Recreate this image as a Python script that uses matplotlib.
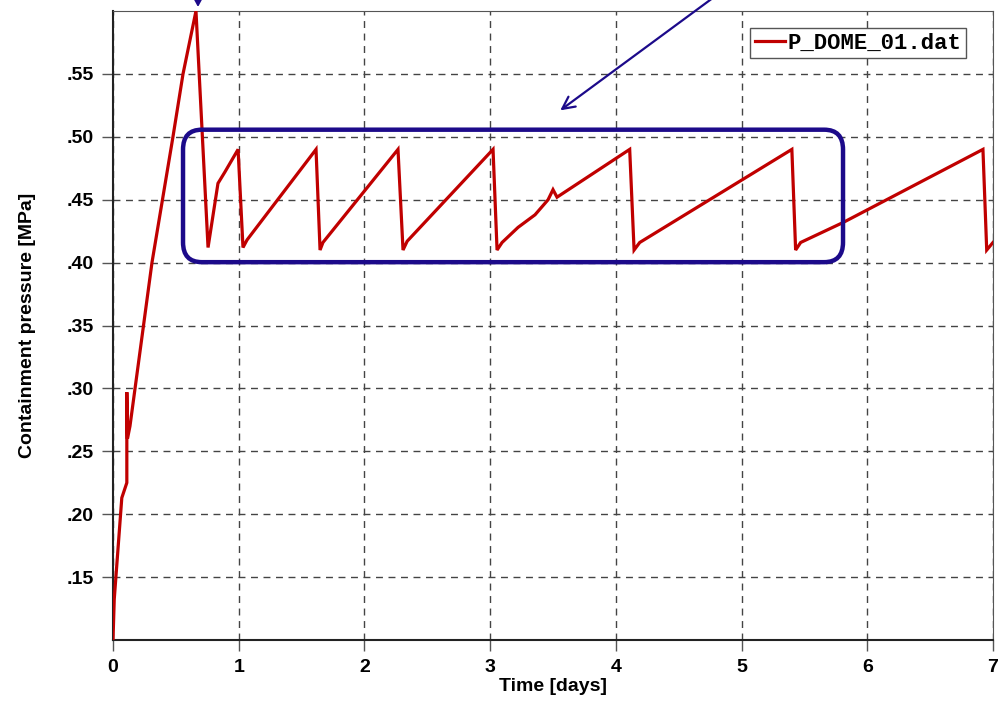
#!/usr/bin/env python
"""Containment pressure vs time, recreated from a reference figure."""

import matplotlib

matplotlib.use("Agg")
import matplotlib.pyplot as plt
from matplotlib.patches import FancyBboxPatch

# time [days] and pressure [MPa]
time_days = [
    0.0, 0.01, 0.07, 0.11, 0.11, 0.115, 0.135, 0.31, 0.477, 0.557, 0.66,
    0.756, 0.835, 0.89, 0.995,
    1.034, 1.066, 1.615,
    1.647, 1.67, 2.267,
    2.307, 2.34, 3.023,
    3.055, 3.095, 3.222, 3.357, 3.461, 3.50, 3.532, 4.11,
    4.145, 4.19, 5.40,
    5.43, 5.47, 5.81, 6.92,
    6.95, 7.0,
]
pressure_mpa = [
    0.100, 0.1325, 0.213, 0.225, 0.297, 0.260, 0.270, 0.400, 0.500, 0.550, 0.600,
    0.412, 0.463, 0.472, 0.490,
    0.412, 0.418, 0.490,
    0.410, 0.416, 0.490,
    0.410, 0.417, 0.490,
    0.410, 0.416, 0.428, 0.438, 0.450, 0.458, 0.452, 0.490,
    0.410, 0.416, 0.490,
    0.410, 0.416, 0.432, 0.490,
    0.410, 0.416,
]
series_name = "P_DOME_01.dat"
x_ticks = [0, 1, 2, 3, 4, 5, 6, 7]
y_ticks = [0.15, 0.20, 0.25, 0.30, 0.35, 0.40, 0.45, 0.50, 0.55]
y_tick_labels = [".15", ".20", ".25", ".30", ".35", ".40", ".45", ".50", ".55"]

RED = "#c00000"
NAVY = "#1c0a8a"

plt.rcParams["font.family"] = ["Liberation Sans", "DejaVu Sans"]

fig = plt.figure(figsize=(10.02, 7.09), dpi=100)
ax = fig.add_axes([113 / 1002, 69 / 709, 880 / 1002, 629 / 709])

ax.plot(time_days, pressure_mpa, color=RED, lw=2.3, label=series_name,
        solid_joinstyle="miter", zorder=3)

ax.set_xlim(0, 7)
ax.set_ylim(0.10, 0.60)
ax.set_xticks(x_ticks)
ax.set_xticklabels([str(t) for t in x_ticks], fontsize=14, fontweight="bold")
ax.set_yticks(y_ticks)
ax.set_yticklabels(y_tick_labels, fontsize=14, fontweight="bold")
ax.tick_params(direction="out", length=8, width=1, color="#555555", pad=6)
ax.grid(True, ls=(0, (5, 4)), color="#444444", lw=1)

ax.set_xlabel("Time [days]", fontsize=14, fontweight="bold", labelpad=1)
ax.set_ylabel("Containment pressure [MPa]", fontsize=14, fontweight="bold", labelpad=22)

for side in ["top", "right"]:
    ax.spines[side].set_color("#555555")
for side in ["left", "bottom"]:
    ax.spines[side].set_color("#222222")
    ax.spines[side].set_linewidth(1.5)

leg = ax.legend(loc="upper right", bbox_to_anchor=(0.969, 0.973), fancybox=False,
                framealpha=1, edgecolor="#555555", handlelength=1.35, handletextpad=0.12,
                borderpad=0.2, borderaxespad=0,
                prop={"family": "Liberation Mono", "weight": "bold", "size": 16})
leg.get_frame().set_linewidth(1)

# highlighted region of the pressure cycling
box = FancyBboxPatch((0.687, 0.414), 4.99, 0.078,
                     boxstyle="round,pad=0,rounding_size=0.15", mutation_aspect=0.105,
                     fill=False, ec=NAVY, lw=3.2, zorder=4)
box.set_boxstyle("round", pad=0.13, rounding_size=0.15)
ax.add_patch(box)

# arrows coming from outside the picture
ax.annotate("", xy=(198, 702), xycoords="figure pixels", xytext=(198, 740),
            textcoords="figure pixels", annotation_clip=False,
            arrowprops=dict(arrowstyle="-|>,head_length=0.55,head_width=0.3",
                            color=NAVY, lw=1.5, mutation_scale=16, shrinkA=0, shrinkB=0))
ax.annotate("", xy=(558, 597), xycoords="figure pixels", xytext=(725, 720),
            textcoords="figure pixels", annotation_clip=False,
            arrowprops=dict(arrowstyle="->", color=NAVY, lw=1.6, mutation_scale=22))

fig.savefig("out.png", dpi=100)
